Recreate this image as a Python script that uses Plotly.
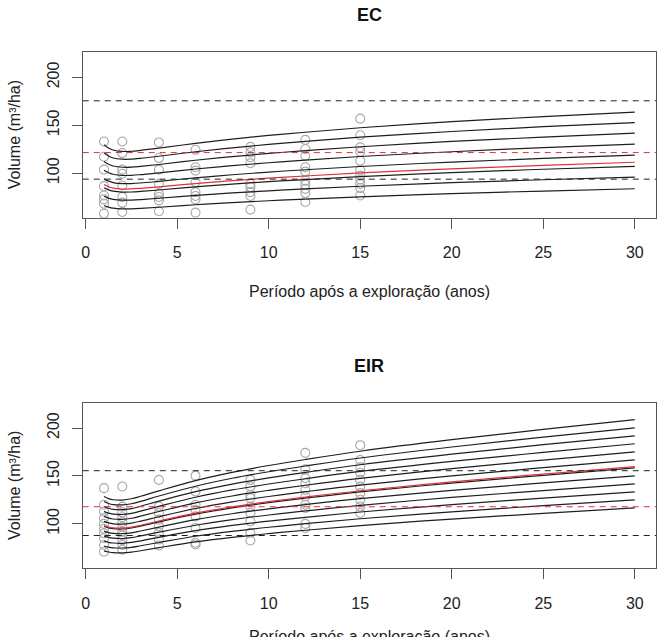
import plotly.graph_objects as go
from plotly.subplots import make_subplots

# ---------------- data ----------------
YEARS = [1, 1.25, 1.5, 2, 2.5, 3, 4, 6, 8, 10, 12, 15, 20, 25, 30]

EC_MEAN = [88.2, 85.9, 84.5, 83.5, 83.6, 84.2, 85.8, 89.2, 92.2, 94.8, 97.1, 100.3, 104.6, 108.2, 111.4]
EC_CURVES = [
    [129.7, 126.3, 124.2, 122.7, 122.9, 123.8, 126.1, 131.1, 135.5, 139.4, 142.7, 147.4, 153.8, 159.1, 163.8],
    [121.0, 117.9, 115.9, 114.6, 114.7, 115.5, 117.7, 122.4, 126.5, 130.1, 133.2, 137.6, 143.5, 148.5, 152.8],
    [112.2, 109.3, 107.5, 106.2, 106.3, 107.1, 109.1, 113.5, 117.3, 120.6, 123.5, 127.6, 133.1, 137.6, 141.7],
    [103.2, 100.5, 98.9, 97.7, 97.8, 98.5, 100.4, 104.4, 107.9, 110.9, 113.6, 117.4, 122.4, 126.6, 130.3],
    [94.1, 91.7, 90.2, 89.1, 89.2, 89.8, 91.5, 95.2, 98.4, 101.2, 103.6, 107.0, 111.6, 115.4, 118.9],
    [84.8, 82.6, 81.3, 80.3, 80.4, 81.0, 82.5, 85.8, 88.7, 91.2, 93.4, 96.5, 100.6, 104.1, 107.2],
    [75.9, 74.0, 72.8, 71.9, 72.0, 72.5, 73.9, 76.8, 79.4, 81.6, 83.6, 86.4, 90.1, 93.2, 95.9],
    [66.3, 64.6, 63.5, 62.8, 62.9, 63.3, 64.5, 67.1, 69.3, 71.3, 73.0, 75.4, 78.7, 81.4, 83.8],
]
EC_OBS_X = [1] * 8 + [2] * 8 + [4] * 8 + [6] * 8 + [9] * 9 + [12] * 10 + [15] * 11
EC_OBS_Y = [
    133.1, 117.2, 103.7, 86.5, 76.8, 72.7, 68.2, 57.9,
    133.1, 121.0, 103.7, 99.4, 87.2, 75.2, 69.3, 59.6,
    132.1, 115.8, 103.7, 88.9, 78.6, 75.2, 71.7, 60.3,
    124.4, 106.2, 102.7, 90.7, 80.3, 76.2, 72.7, 58.9,
    127.5, 121.7, 116.6, 110.4, 88.9, 85.5, 80.3, 76.2, 62.0,
    134.8, 125.2, 118.2, 106.2, 101.7, 92.3, 87.9, 83.7, 79.3, 70.0,
    156.9, 139.6, 126.9, 122.4, 113.0, 103.4, 97.5, 93.4, 88.9, 84.5, 76.8,
]
EC_HLINES_BLACK = [175.5, 93.8]
EC_HLINE_RED = [121.5]

EIR_MEAN = [98.4, 96.8, 95.9, 95.6, 96.6, 98.6, 103.0, 111.2, 117.8, 123.2, 128.0, 134.6, 143.8, 152.0, 159.8]
EIR_CURVES = [
    [128.5, 126.4, 125.2, 124.9, 126.2, 128.8, 134.5, 145.2, 153.8, 160.9, 167.2, 175.8, 187.8, 198.5, 208.7],
    [123.3, 121.3, 120.2, 119.8, 121.0, 123.5, 129.1, 139.3, 147.6, 154.4, 160.4, 168.7, 180.2, 190.5, 200.2],
    [118.2, 116.3, 115.2, 114.8, 116.0, 118.4, 123.7, 133.6, 141.5, 148.0, 153.7, 161.7, 172.7, 182.6, 191.9],
    [113.1, 111.2, 110.2, 109.8, 111.0, 113.3, 118.3, 127.8, 135.4, 141.6, 147.1, 154.7, 165.2, 174.6, 183.6],
    [107.8, 106.1, 105.1, 104.8, 105.9, 108.1, 112.9, 121.9, 129.1, 135.0, 140.3, 147.5, 157.6, 166.6, 175.1],
    [102.7, 101.1, 100.1, 99.8, 100.9, 102.9, 107.5, 116.1, 123.0, 128.6, 133.6, 140.5, 150.1, 158.7, 166.8],
    [97.5, 95.9, 95.0, 94.7, 95.7, 97.7, 102.1, 110.2, 116.7, 122.1, 126.8, 133.4, 142.5, 150.6, 158.4],
    [92.4, 90.9, 90.1, 89.8, 90.7, 92.6, 96.7, 104.4, 110.6, 115.7, 120.2, 126.4, 135.0, 142.7, 150.1],
    [87.3, 85.9, 85.1, 84.8, 85.7, 87.5, 91.4, 98.6, 104.5, 109.3, 113.5, 119.4, 127.6, 134.8, 141.7],
    [82.2, 80.8, 80.1, 79.8, 80.7, 82.3, 86.0, 92.9, 98.4, 102.9, 106.9, 112.4, 120.1, 126.9, 133.4],
    [77.0, 75.8, 75.1, 74.9, 75.6, 77.2, 80.6, 87.1, 92.2, 96.5, 100.2, 105.4, 112.6, 119.0, 125.1],
    [71.8, 70.7, 70.0, 69.8, 70.5, 72.0, 75.2, 81.2, 86.0, 89.9, 93.4, 98.3, 105.0, 111.0, 116.7],
]
EIR_OBS_X = [1] * 10 + [2] * 11 + [4] * 8 + [6] * 8 + [9] * 9 + [12] * 10 + [15] * 10
EIR_OBS_Y = [
    137.3, 120.0, 113.0, 106.0, 100.0, 95.0, 90.0, 85.0, 78.0, 71.0,
    139.0, 118.0, 112.0, 107.0, 102.0, 97.0, 92.0, 88.0, 83.0, 78.0, 73.0,
    145.9, 118.2, 111.4, 104.5, 97.5, 90.7, 83.8, 77.5,
    150.3, 133.8, 120.0, 114.8, 107.9, 95.8, 80.3, 78.6,
    145.9, 139.0, 130.3, 126.9, 118.2, 111.4, 102.7, 90.7, 82.7,
    174.1, 156.9, 147.6, 142.4, 135.5, 128.6, 120.0, 116.6, 100.0, 95.8,
    182.1, 166.6, 159.0, 153.4, 145.9, 138.9, 132.1, 125.2, 118.2, 111.4,
]
EIR_HLINES_BLACK = [155.5, 87.9]
EIR_HLINE_RED = [117.9]

X_TICKS = [0, 5, 10, 15, 20, 25, 30]
Y_TICKS = [100, 150, 200]
PANEL_TITLES = ["EC", "EIR"]
X_TITLE = "Período após a exploração (anos)"
Y_TITLE = "Volume (m³/ha)"

# ---------------- figure ----------------
FONT = "Liberation Sans, Arial, sans-serif"
W, H = 663, 637
LINE_BLACK = "#1e1e1e"
RED = "#e0303c"
GREY = "#a8a8a8"
AX = "#555555"

fig = make_subplots(rows=2, cols=1)

panels = [
    (EC_CURVES, EC_MEAN, EC_OBS_X, EC_OBS_Y, EC_HLINES_BLACK, EC_HLINE_RED),
    (EIR_CURVES, EIR_MEAN, EIR_OBS_X, EIR_OBS_Y, EIR_HLINES_BLACK, EIR_HLINE_RED),
]

for i, (curves, mean, ox, oy, hb, hr) in enumerate(panels):
    row = i + 1
    fig.add_trace(go.Scatter(x=ox, y=oy, mode="markers",
                             marker=dict(symbol="circle-open", size=9,
                                         line=dict(color=GREY, width=1.1), color=GREY),
                             showlegend=False, hoverinfo="skip"), row=row, col=1)
    for c in curves:
        fig.add_trace(go.Scatter(x=YEARS, y=c, mode="lines",
                                 line=dict(color=LINE_BLACK, width=1.2, shape="spline"),
                                 showlegend=False, hoverinfo="skip"), row=row, col=1)
    fig.add_trace(go.Scatter(x=YEARS, y=mean, mode="lines",
                             line=dict(color=RED, width=1.2, shape="spline"),
                             showlegend=False, hoverinfo="skip"), row=row, col=1)
    for v in hb:
        fig.add_hline(y=v, line=dict(color="#222222", width=1, dash="6px,5px"), row=row, col=1)
    for v in hr:
        fig.add_hline(y=v, line=dict(color=RED, width=1, dash="6px,5px"), row=row, col=1)

# target geometry in window pixels
X0, X1 = 81, 656
PANEL_TOPS = [52, 402.7]
PANEL_H = 165.7


def px(pix):
    return pix / W


def py(pix):
    return 1 - pix / H


xdom = [px(X0), px(X1)]
axis_common = dict(showline=True, mirror=True, linecolor=AX, linewidth=1,
                   ticks="outside", ticklen=10, tickwidth=1, tickcolor=AX,
                   showgrid=False, zeroline=False,
                   tickfont=dict(family=FONT, size=16, color="#222222"))

layout_axes = {}
for i in range(2):
    top = PANEL_TOPS[i]
    bot = top + PANEL_H
    sfx = "" if i == 0 else str(i + 1)
    layout_axes["xaxis" + sfx] = dict(domain=xdom, range=[-0.16, 31.16], tickvals=X_TICKS,
                                      ticklabelstandoff=10, **axis_common)
    layout_axes["yaxis" + sfx] = dict(domain=[py(bot), py(top)], range=[53.6, 226.4],
                                      tickvals=Y_TICKS, tickangle=-90,
                                      ticklabelstandoff=6, **axis_common)

annotations = []
title_y = [15, 365.7]
xtitle_y = [291, 636]
for i in range(2):
    top = PANEL_TOPS[i]
    bot = top + PANEL_H
    cx = px((X0 + X1) / 2)
    annotations.append(dict(text="<b>%s</b>" % PANEL_TITLES[i], x=cx, y=py(title_y[i]),
                            xref="paper", yref="paper", showarrow=False,
                            xanchor="center", yanchor="middle",
                            font=dict(family=FONT, size=18, color="#111111")))
    annotations.append(dict(text=X_TITLE, x=cx, y=py(xtitle_y[i]), xref="paper", yref="paper",
                            showarrow=False, xanchor="center", yanchor="middle",
                            font=dict(family=FONT, size=16, color="#222222")))
    annotations.append(dict(text=Y_TITLE, x=px(12.5), y=py((top + bot) / 2),
                            xref="paper", yref="paper", showarrow=False, textangle=-90,
                            xanchor="center", yanchor="middle",
                            font=dict(family=FONT, size=16, color="#222222")))

fig.update_layout(width=W, height=H, autosize=False,
                  margin=dict(l=0, r=0, t=0, b=0),
                  paper_bgcolor="white", plot_bgcolor="white",
                  showlegend=False, annotations=annotations, **layout_axes)

fig.write_html("out.html",
               config={"displayModeBar": False},
               post_script="document.body.style.margin='0';"
                           "document.body.style.padding='0';"
                           "document.body.style.overflow='hidden';")
